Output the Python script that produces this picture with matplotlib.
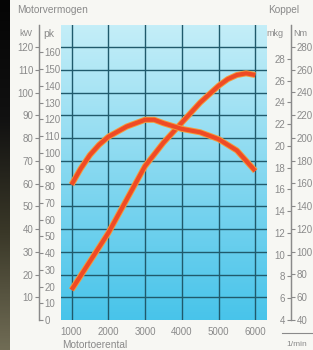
import matplotlib
matplotlib.use('Agg')
import matplotlib.pyplot as plt
import numpy as np
from matplotlib import patheffects as pe
from matplotlib.colors import LinearSegmentedColormap

# ---- data ----
rpm_ticks = [1000, 2000, 3000, 4000, 5000, 6000]
kw_ticks = [10, 20, 30, 40, 50, 60, 70, 80, 90, 100, 110, 120]
pk_ticks = [0, 10, 20, 30, 40, 50, 60, 70, 80, 90, 100, 110, 120, 130, 140, 150, 160]
nm_ticks = [40, 60, 80, 100, 120, 140, 160, 180, 200, 220, 240, 260, 280]
mkg_ticks = [4, 6, 8, 10, 12, 14, 16, 18, 20, 22, 24, 26, 28]

power_rpm = [1000, 1500, 2000, 2500, 3000, 3500, 4000, 4500, 5000, 5250, 5500, 5750, 6000]
power_pk = [18, 35, 52, 72, 92, 106, 118, 130, 140, 144, 146.5, 147.5, 146.5]

torque_rpm = [1000, 1250, 1500, 1750, 2000, 2500, 3000, 3250, 3500, 4000, 4500, 5000, 5500, 6000]
torque_nm = [159, 173, 185, 194, 201, 210, 216, 216, 213, 208, 205, 199, 189, 171]

W, H = 313, 350
fig = plt.figure(figsize=(W / 100, H / 100), dpi=100)
fig.patch.set_facecolor('#f7f7f3')

NARROW = ['Liberation Sans Narrow', 'Liberation Sans', 'DejaVu Sans']
REG = ['Liberation Sans', 'DejaVu Sans']
GRAY = '#8a8a8a'

def fx(x):
    return x / W

def fy(y):
    return 1 - y / H

# dark strip at left edge (photo border)
strip = fig.add_axes([0, 0, 10 / W, 1])
sg = np.linspace(0, 1, 200).reshape(-1, 1)
strip_cmap = LinearSegmentedColormap.from_list('s', ['#050505', '#111111', '#3a3828', '#706c55'])
strip.imshow(sg, aspect='auto', cmap=strip_cmap, extent=[0, 1, 0, 1], origin='upper')
strip.axis('off')

# main axes
L, R, T, B = 61, 267, 25, 320
ax = fig.add_axes([fx(L), 1 - B / H, (R - L) / W, (B - T) / H])
xmin, xmax = 714, 6319
kw_max = 129.7
ax.set_xlim(xmin, xmax)
ax.set_ylim(0, kw_max)

grad = np.linspace(0, 1, 256).reshape(-1, 1)
bg_cmap = LinearSegmentedColormap.from_list('bg', ['#c4eef8', '#86d8f0', '#48c4ea'])
ax.imshow(grad, aspect='auto', cmap=bg_cmap, extent=[xmin, xmax, 0, kw_max],
          origin='upper', zorder=0)

ax.set_xticks(rpm_ticks)
ax.set_yticks(kw_ticks)
ax.grid(True, color='#205a6c', lw=1.0, zorder=1)
ax.set_axisbelow(False)
for s in ['top', 'right', 'bottom']:
    ax.spines[s].set_visible(False)
ax.spines['left'].set_position(('axes', (39 - L) / (R - L)))
ax.spines['left'].set_color(GRAY)
ax.spines['left'].set_linewidth(0.9)
ax.tick_params(axis='x', length=0, pad=5, labelsize=7, labelcolor=GRAY)
ax.tick_params(axis='y', length=3, width=0.8, color=GRAY, pad=1, labelsize=7, labelcolor=GRAY)
for lab in ax.get_xticklabels() + ax.get_yticklabels():
    lab.set_family(NARROW)

# pk axis (same spine, labels right)
ax_pk = ax.twinx()
ax_pk.set_ylim(0, kw_max * 1.36)
for s in ['top', 'left', 'bottom']:
    ax_pk.spines[s].set_visible(False)
ax_pk.spines['right'].set_position(('axes', (39 - L) / (R - L)))
ax_pk.spines['right'].set_color(GRAY)
ax_pk.spines['right'].set_linewidth(0.9)
ax_pk.set_yticks(pk_ticks)
ax_pk.tick_params(axis='y', length=3, width=0.8, color=GRAY, pad=1, labelsize=7, labelcolor=GRAY)
for lab in ax_pk.get_yticklabels():
    lab.set_family(NARROW)

# Nm axis (right spine, labels right)
ax_nm = ax.twinx()
ax_nm.set_ylim(40, 299.3)
for s in ['top', 'left', 'bottom']:
    ax_nm.spines[s].set_visible(False)
ax_nm.spines['right'].set_position(('axes', (291 - L) / (R - L)))
ax_nm.spines['right'].set_color(GRAY)
ax_nm.spines['right'].set_linewidth(0.9)
ax_nm.set_yticks(nm_ticks)
ax_nm.tick_params(axis='y', length=3, width=0.8, color=GRAY, pad=1, labelsize=7, labelcolor=GRAY)
for lab in ax_nm.get_yticklabels():
    lab.set_family(NARROW)

# mkg axis (same right spine, labels left)
ax_mkg = ax.twinx()
ax_mkg.set_ylim(4.2, 31.1)
for s in ['top', 'right', 'bottom']:
    ax_mkg.spines[s].set_visible(False)
ax_mkg.spines['left'].set_visible(True)
ax_mkg.spines['left'].set_position(('axes', (291 - L) / (R - L)))
ax_mkg.spines['left'].set_color(GRAY)
ax_mkg.spines['left'].set_linewidth(0.9)
ax_mkg.yaxis.set_ticks_position('left')
ax_mkg.set_yticks(mkg_ticks)
ax_mkg.tick_params(axis='y', length=3, width=0.8, color=GRAY, pad=1, labelsize=7,
                   labelcolor=GRAY, labelleft=True, labelright=False)
for lab in ax_mkg.get_yticklabels():
    lab.set_family(NARROW)

for a in (ax_pk, ax_nm, ax_mkg):
    a.patch.set_visible(False)

# curves
effects = [pe.Stroke(linewidth=4.4, foreground='#f59a3a'), pe.Normal()]
ax_pk.plot(power_rpm, power_pk, color='#ef4a26', lw=3.0, solid_capstyle='butt',
           path_effects=effects, zorder=5, clip_on=False)
ax_nm.plot(torque_rpm, torque_nm, color='#ef4a26', lw=3.0, solid_capstyle='butt',
           path_effects=effects, zorder=5, clip_on=False)

# texts
fig.text(fx(17), fy(10), 'Motorvermogen', family=REG, fontsize=7.3, color=GRAY, va='center', ha='left')
fig.text(fx(268), fy(10), 'Koppel', family=REG, fontsize=7.3, color=GRAY, va='center', ha='left')
fig.text(fx(19), fy(33), 'kW', family=NARROW, fontsize=6.5, color=GRAY, va='center', ha='left')
fig.text(fx(43), fy(34), 'pk', family=REG, fontsize=7.5, color=GRAY, va='center', ha='left')
fig.text(fx(266), fy(33), 'mkg', family=NARROW, fontsize=6.5, color=GRAY, va='center', ha='left')
fig.text(fx(293), fy(33), 'Nm', family=NARROW, fontsize=6.5, color=GRAY, va='center', ha='left')
fig.text(fx(62), fy(345), 'Motortoerental', family=REG, fontsize=7.3, color=GRAY, va='center', ha='left')
fig.text(fx(286), fy(344), '1/min', family=NARROW, fontsize=6, color=GRAY, va='center', ha='left')
fig.add_artist(plt.Line2D([fx(282), fx(313)], [fy(333), fy(333)], color=GRAY, lw=0.8))

fig.savefig('out.png', dpi=100, facecolor=fig.get_facecolor())
